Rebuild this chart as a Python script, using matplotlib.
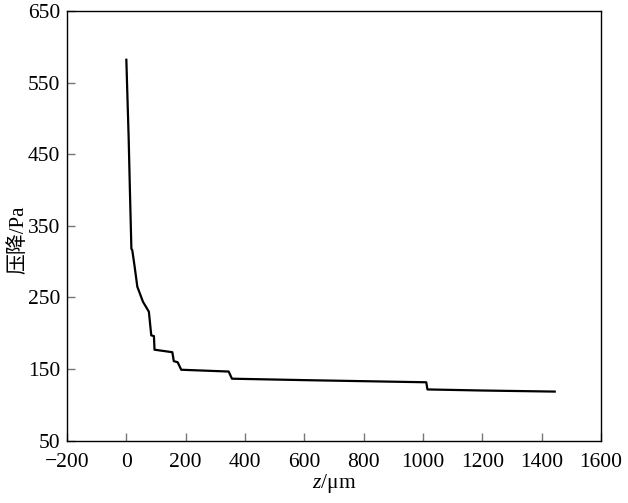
import matplotlib
matplotlib.use("Agg")
import matplotlib.pyplot as plt

plt.rcParams['font.family'] = ['Liberation Serif', 'Noto Sans CJK SC']
plt.rcParams['mathtext.fontset'] = 'custom'
plt.rcParams['mathtext.it'] = 'Liberation Serif:italic'
plt.rcParams['mathtext.rm'] = 'Liberation Serif'

# pressure drop along z
z = [0, 8, 12, 17, 20, 28, 37, 56, 76, 84, 93, 95, 155, 160, 173, 185,
     345, 356, 600, 1011, 1015, 1200, 1444]
dp = [582, 470, 400, 318, 316, 293, 265, 244, 230, 197, 196, 177, 173.5,
      161, 159.5, 149, 146.5, 136.5, 134.5, 131.5, 121.5, 120, 118.5]

xticks = [-200, 0, 200, 400, 600, 800, 1000, 1200, 1400, 1600]
yticks = [50, 150, 250, 350, 450, 550, 650]

fig = plt.figure(figsize=(6.28, 5.03), dpi=100)
ax = fig.add_axes([0.1067, 0.124, 0.8503, 0.854])

ax.plot(z, dp, color='black', lw=1.6)

ax.set_xlim(-200, 1600)
ax.set_ylim(50, 650)
ax.set_xticks(xticks)
ax.set_yticks(yticks)
ax.set_xticklabels([str(t).replace('-', '\u2212') for t in xticks])
ax.tick_params(direction='in', length=6, width=1, color='#777777',
               labelsize=15.5)
ax.tick_params(axis='x', pad=9)
ax.tick_params(axis='y', pad=5)
for s in ax.spines.values():
    s.set_linewidth(1.0)

ax.set_xlabel('$z$/\u03bcm', fontsize=15.5, labelpad=0)
ax.set_ylabel('压降/Pa', fontsize=15)
ax.yaxis.set_label_coords(-0.072, 0.467)

fig.savefig('out.png', dpi=100)
